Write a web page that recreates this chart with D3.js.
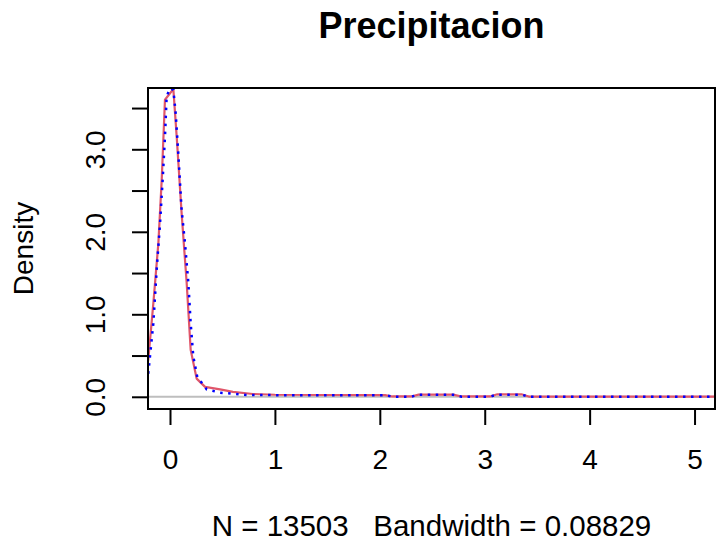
<!DOCTYPE html>
<html>
<head>
<meta charset="utf-8">
<script src="https://cdn.jsdelivr.net/npm/d3@7"></script>
<style>
  html, body { margin: 0; padding: 0; background: #fff; }
  svg { display: block; }
  text { font-family: "Liberation Sans", Arial, Helvetica, sans-serif; fill: #000; white-space: pre; }
</style>
</head>
<body>
<svg id="chart" width="721" height="551"></svg>
<script>
// ---- data ----
const title = "Precipitacion";
const yLabel = "Density";
const xLabel = "N = 13503   Bandwidth = 0.08829";

const xTicks = [0, 1, 2, 3, 4, 5];
const xTickLabels = ["0", "1", "2", "3", "4", "5"];
const yTicks = [0, 0.5, 1, 1.5, 2, 2.5, 3, 3.5];
const yTickLabels = ["0.0", "", "1.0", "", "2.0", "", "3.0", ""];

// red solid density curve
const redX = [-0.26, -0.207, -0.159, -0.111, -0.079, -0.048, 0.032, 0.064, 0.111, 0.159, 0.197, 0.254, 0.334, 0.477, 0.6, 0.79,
              1.0, 1.5, 2.05, 2.12, 2.3, 2.37, 2.7, 2.78, 3.05, 3.12, 3.35, 3.42, 4.0, 4.5, 5.0, 5.3];
const redY = [0.2, 0.45, 1.13, 1.86, 2.63, 3.60, 3.73, 3.15, 2.22, 1.38, 0.57, 0.22, 0.12, 0.09, 0.06, 0.034,
              0.025, 0.022, 0.02, 0.004, 0.004, 0.027, 0.027, 0.004, 0.004, 0.03, 0.03, 0.003, 0.002, 0.001, 0.001, 0.001];

// blue dotted density curve
const blueX = [-0.26, -0.207, -0.159, -0.127, -0.095, -0.07, -0.048, -0.032, 0.0, 0.032, 0.054, 0.079, 0.111, 0.143, 0.175, 0.197, 0.222, 0.26, 0.35, 0.477, 0.73,
               1.0, 1.5, 2.05, 2.12, 2.3, 2.37, 2.7, 2.78, 3.05, 3.12, 3.35, 3.42, 4.0, 4.5, 5.0, 5.3];
const blueY = [0.1, 0.285, 0.89, 1.54, 2.10, 2.63, 3.15, 3.64, 3.74, 3.72, 3.44, 2.95, 2.26, 1.86, 1.38, 0.89, 0.49, 0.24, 0.09, 0.05, 0.022,
               0.02, 0.019, 0.018, 0.002, 0.002, 0.024, 0.024, 0.002, 0.002, 0.026, 0.026, 0.001, 0.001, 0.001, 0.001, 0.001];

// ---- layout ----
const box = { left: 148, right: 715, top: 88, bottom: 409 };
const baseFont = 28;

const svg = d3.select("#chart");

const x = d3.scaleLinear().domain([-0.2097, 5.195]).range([box.left, box.right]);
const y = d3.scaleLinear().domain([-0.148, 3.743]).range([box.bottom, box.top]);

// clip
svg.append("defs").append("clipPath").attr("id", "clip")
  .append("rect")
  .attr("x", box.left).attr("y", box.top)
  .attr("width", box.right - box.left).attr("height", box.bottom - box.top);

const plot = svg.append("g").attr("clip-path", "url(#clip)");

// zero line
plot.append("line")
  .attr("x1", box.left).attr("x2", box.right)
  .attr("y1", y(0)).attr("y2", y(0))
  .attr("stroke", "#bebebe").attr("stroke-width", 2);

const line = d3.line().x(d => x(d[0])).y(d => y(d[1]));

plot.append("path")
  .datum(redX.map((v, i) => [v, redY[i]]))
  .attr("d", line)
  .attr("fill", "none")
  .attr("stroke", "#e0566a")
  .attr("stroke-width", 2.2)
  .attr("stroke-linejoin", "round");

plot.append("path")
  .datum(blueX.map((v, i) => [v, blueY[i]]))
  .attr("d", line)
  .attr("fill", "none")
  .attr("stroke", "#0000ff")
  .attr("stroke-width", 2.5)
  .attr("stroke-dasharray", "2.5,5.5");

// box
svg.append("rect")
  .attr("x", box.left).attr("y", box.top)
  .attr("width", box.right - box.left).attr("height", box.bottom - box.top)
  .attr("fill", "none").attr("stroke", "#000").attr("stroke-width", 2);

// x axis
const xAxis = d3.axisBottom(x).tickValues(xTicks)
  .tickFormat((d, i) => xTickLabels[i]).tickSize(16).tickPadding(24);
const gx = svg.append("g").attr("transform", `translate(0,${box.bottom})`).call(xAxis);
gx.select(".domain").attr("d", `M${x(xTicks[0])},0H${x(xTicks[xTicks.length - 1])}`)
  .attr("stroke", "#000").attr("stroke-width", 2);
gx.selectAll(".tick line").attr("stroke", "#000").attr("stroke-width", 2);
gx.selectAll(".tick text").attr("font-size", baseFont)
  .attr("font-family", "Liberation Sans, Arial, sans-serif").attr("fill", "#000");

// y axis
const yAxis = d3.axisLeft(y).tickValues(yTicks)
  .tickFormat((d, i) => yTickLabels[i]).tickSize(16).tickPadding(0);
const gy = svg.append("g").attr("transform", `translate(${box.left},0)`).call(yAxis);
gy.select(".domain").attr("d", `M0,${y(yTicks[0])}V${y(yTicks[yTicks.length - 1])}`)
  .attr("stroke", "#000").attr("stroke-width", 2);
gy.selectAll(".tick line").attr("stroke", "#000").attr("stroke-width", 2);
gy.selectAll(".tick text")
  .attr("font-size", baseFont)
  .attr("font-family", "Liberation Sans, Arial, sans-serif")
  .attr("fill", "#000")
  .attr("x", null).attr("dy", null)
  .attr("text-anchor", "middle")
  .attr("transform", "translate(-43,0) rotate(-90)");

// title
svg.append("text")
  .attr("x", (box.left + box.right) / 2).attr("y", 38)
  .attr("text-anchor", "middle")
  .attr("font-size", 36).attr("font-weight", "bold")
  .text(title);

// x label
svg.append("text")
  .attr("x", (box.left + box.right) / 2).attr("y", 536)
  .attr("text-anchor", "middle")
  .attr("font-size", 29.5)
  .attr("xml:space", "preserve")
  .text(xLabel);

// y label
svg.append("text")
  .attr("transform", `translate(33,${(box.top + box.bottom) / 2}) rotate(-90)`)
  .attr("text-anchor", "middle")
  .attr("font-size", baseFont)
  .text(yLabel);
</script>
</body>
</html>
